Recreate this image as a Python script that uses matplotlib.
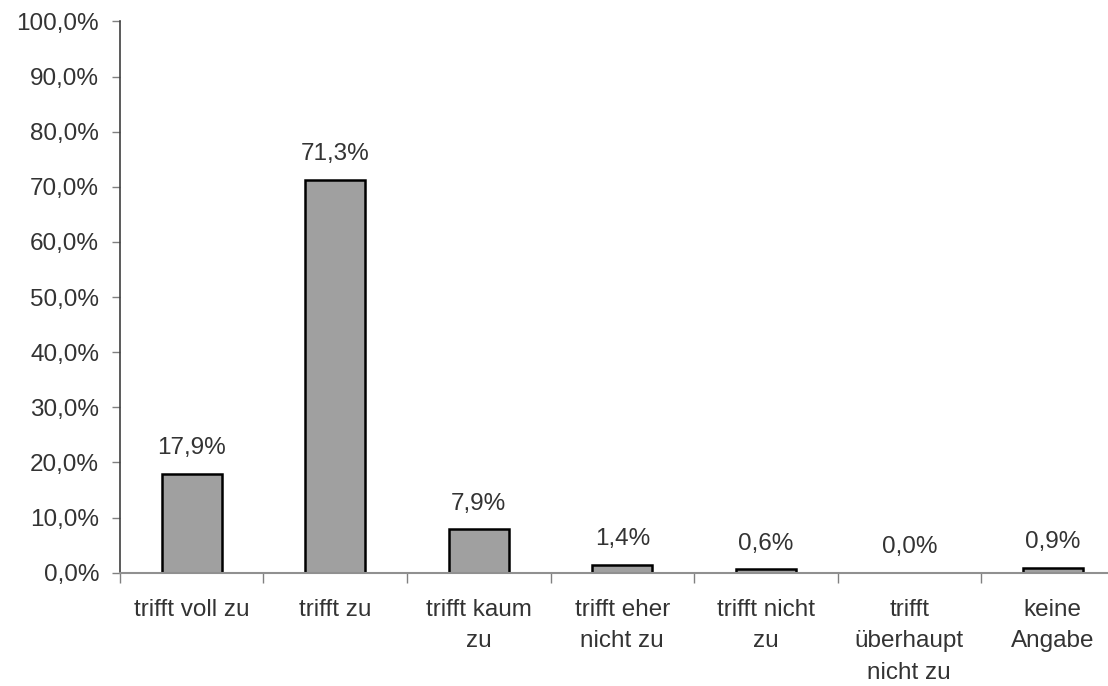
import matplotlib
matplotlib.use("Agg")
import matplotlib.pyplot as plt
from matplotlib.ticker import FuncFormatter, FixedLocator, NullFormatter

categories = [
    "trifft voll zu",
    "trifft zu",
    "trifft kaum\nzu",
    "trifft eher\nnicht zu",
    "trifft nicht\nzu",
    "trifft\nüberhaupt\nnicht zu",
    "keine\nAngabe",
]
values = [17.9, 71.3, 7.9, 1.4, 0.6, 0.0, 0.9]
y_ticks = [0, 10, 20, 30, 40, 50, 60, 70, 80, 90, 100]

plt.rcParams["font.family"] = ["Liberation Sans", "DejaVu Sans"]
text_color = "#333333"
font_size = 17.5

fig = plt.figure(figsize=(11.08, 6.86), dpi=100)
ax = fig.add_axes([0.1083, 0.1652, 0.9066, 0.8035])

x = list(range(len(categories)))
ax.bar(x, values, width=0.42, color="#a0a0a0", edgecolor="black", linewidth=1.8, zorder=3)

for xi, v in zip(x, values):
    ax.annotate(f"{v:.1f}%".replace(".", ","), (xi, v), xytext=(0, 10.5),
                textcoords="offset points", ha="center", va="bottom",
                fontsize=font_size, color=text_color)

ax.set_xlim(-0.5, len(categories) - 0.5)
ax.set_ylim(0, 100)

ax.yaxis.set_major_locator(FixedLocator(y_ticks))
ax.yaxis.set_major_formatter(FuncFormatter(lambda v, _: f"{v:.1f}%".replace(".", ",")))
ax.tick_params(axis="y", direction="out", length=6, width=1, color="#808080",
               labelsize=font_size, labelcolor=text_color, pad=9)

# Category boundaries carry the tick marks; labels sit at bar centres.
ax.xaxis.set_major_locator(FixedLocator([i + 0.5 for i in range(-1, len(categories))]))
ax.xaxis.set_major_formatter(NullFormatter())
ax.xaxis.set_minor_locator(FixedLocator(x))
ax.set_xticklabels(categories, minor=True, fontsize=font_size, color=text_color,
                   linespacing=1.55, ha="center")
ax.tick_params(axis="x", which="minor", length=0, pad=19)
ax.tick_params(axis="x", which="major", direction="out", length=7, width=1, color="#808080")

for side in ("top", "right"):
    ax.spines[side].set_visible(False)
ax.spines["left"].set_color("#404040")
ax.spines["left"].set_linewidth(1.2)
ax.spines["bottom"].set_color("#909090")
ax.spines["bottom"].set_linewidth(1.5)
ax.spines["bottom"].set_zorder(4)

fig.savefig("out.png", dpi=100)
